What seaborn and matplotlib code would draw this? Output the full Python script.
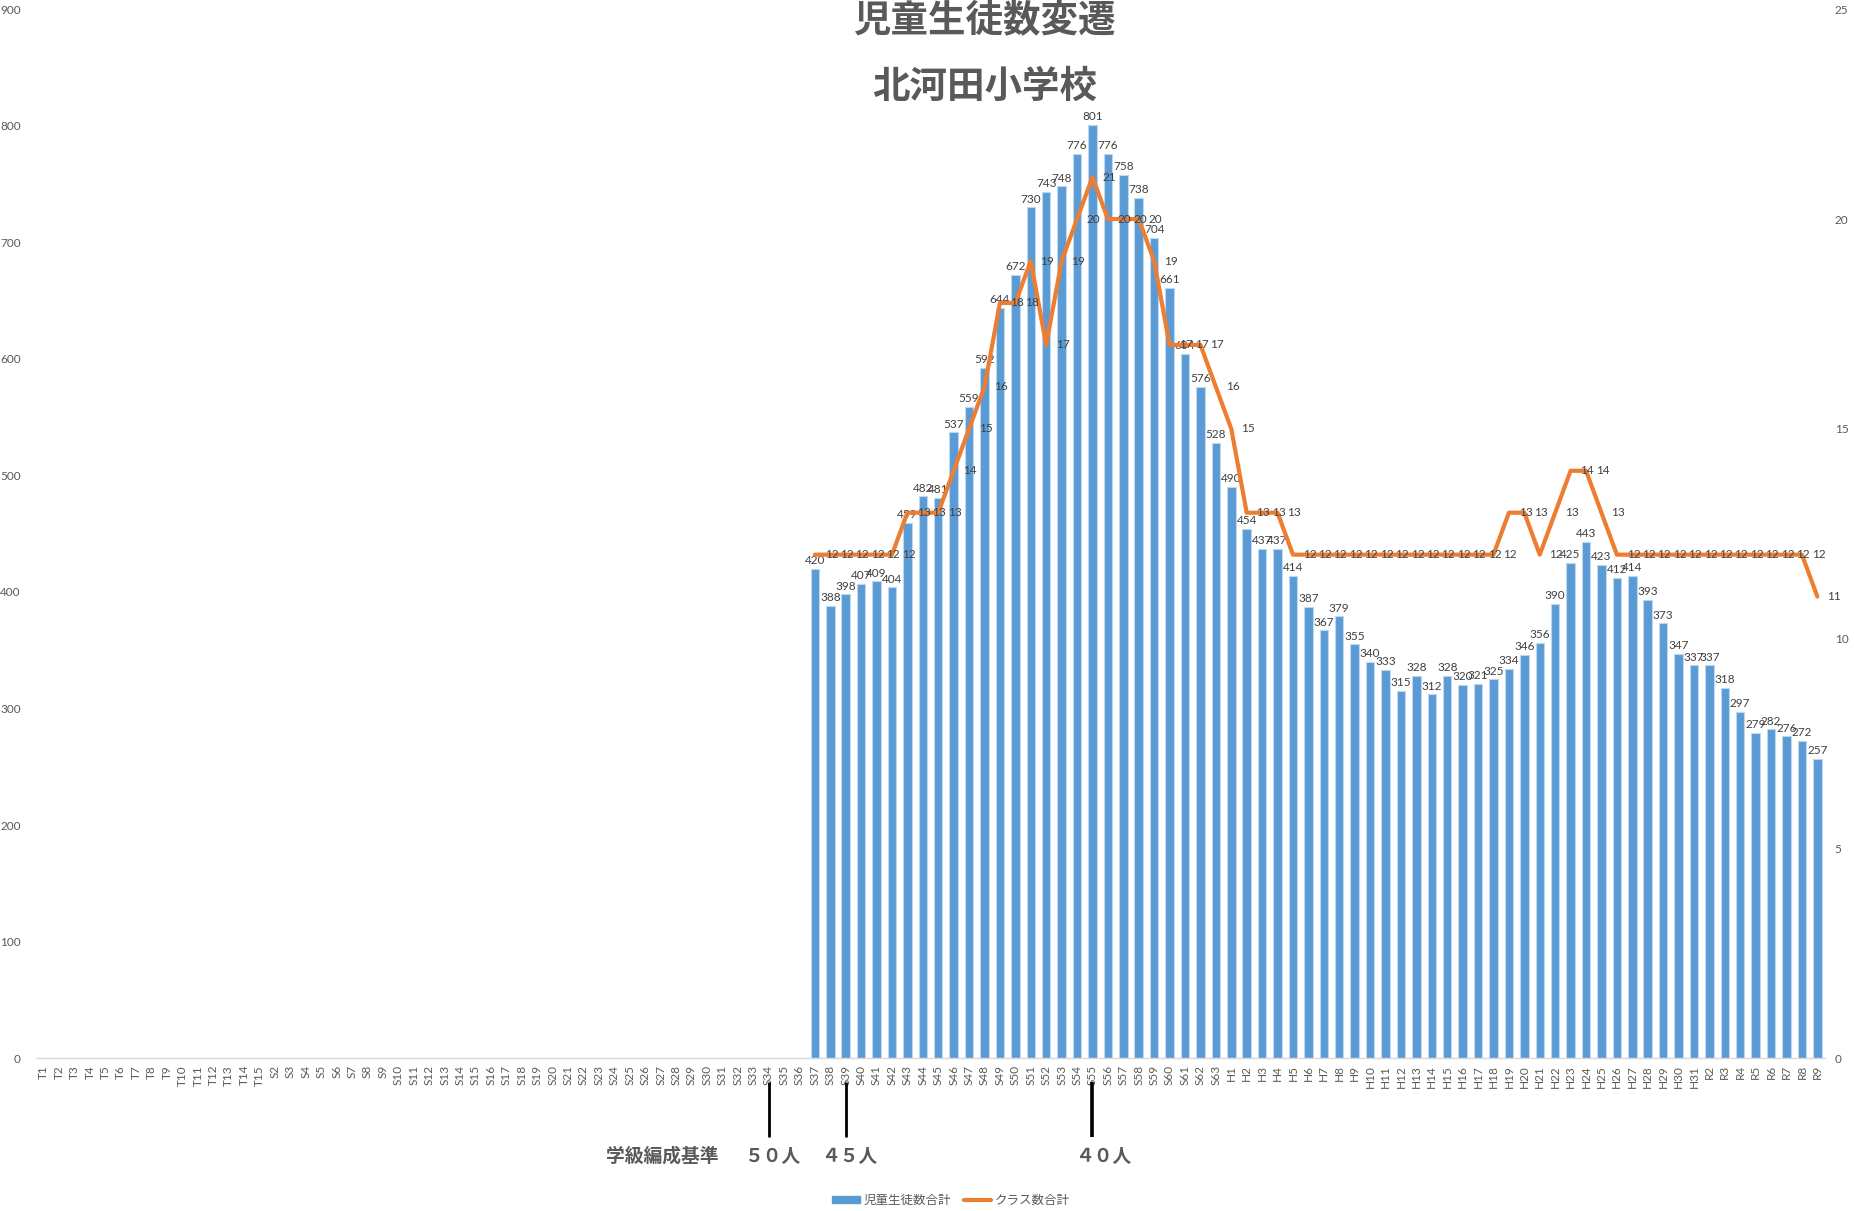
import numpy as np
import pandas as pd
import matplotlib
matplotlib.use("Agg")
import matplotlib.pyplot as plt
import seaborn as sns
from matplotlib.transforms import blended_transform_factory
from matplotlib.lines import Line2D
from matplotlib.patches import Patch

# ---------------- data ----------------
categories = ([f"T{i}" for i in range(1, 16)] + [f"S{i}" for i in range(2, 64)]
              + [f"H{i}" for i in range(1, 32)] + [f"R{i}" for i in range(2, 10)])
data_start = "S37"
students = [420, 388, 398, 407, 409, 404, 459, 482, 481, 537, 559, 592, 644, 672,
            730, 743, 748, 776, 801, 776, 758, 738, 704, 661, 604, 576, 528,
            490, 454, 437, 437, 414, 387, 367, 379, 355, 340, 333, 315, 328, 312,
            328, 320, 321, 325, 334, 346, 356, 390, 425, 443, 423, 412, 414, 393,
            373, 347, 337,
            337, 318, 297, 279, 282, 276, 272, 257]
classes = [12, 12, 12, 12, 12, 12, 13, 13, 13, 14, 15, 16, 18, 18,
           19, 17, 19, 20, 21, 20, 20, 20, 19, 17, 17, 17, 16,
           15, 13, 13, 13, 12, 12, 12, 12, 12, 12, 12, 12, 12, 12,
           12, 12, 12, 12, 13, 13, 12, 13, 14, 14, 13, 12, 12, 12,
           12, 12, 12,
           12, 12, 12, 12, 12, 12, 12, 11]
series_names = ["児童生徒数合計", "クラス数合計"]
title_lines = ["児童生徒数変遷", "北河田小学校"]
standard_title = "学級編成基準"
standard_marks = ["S34", "S39", "S55"]
standard_labels = ["５０人", "４５人", "４０人"]
left_ticks = list(range(0, 901, 100))
right_ticks = list(range(0, 26, 5))

BAR = "#5B9BD5"
LINE = "#ED7D31"
TXT = "#595959"
LAB = "#404040"

sns.set_theme(style="white")
plt.rcParams['font.family'] = ['Lato', 'Noto Sans CJK JP', 'DejaVu Sans']

n = len(categories)
start = categories.index(data_start)
stu_full = [np.nan] * start + students
cls_full = [np.nan] * start + classes
df = pd.DataFrame({"year": categories, "students": stu_full,
                   "classes": cls_full, "pos": np.arange(n)})

fig = plt.figure(figsize=(18.54, 12.11), dpi=100)
ax = fig.add_axes([0.0194, 0.1263, 0.965, 0.866])

sns.barplot(data=df, x="year", y="students", order=categories, color=BAR,
            saturation=1, width=0.55, edgecolor="#BDD7EE", linewidth=0.8,
            errorbar=None, ax=ax)
ax.set_ylim(0, 900)
ax.set_yticks(left_ticks)
ax.set_xlabel("")
ax.set_ylabel("")

ax2 = ax.twinx()
sns.lineplot(data=df.dropna(), x="pos", y="classes", color=LINE, lw=3.0,
             ax=ax2, legend=False)
ax2.set_ylim(0, 25)
ax2.set_yticks(right_ticks)
ax2.set_ylabel("")
ax2.set_xlabel("")
ax.set_xlim(-0.5, n - 0.5)

for a in (ax, ax2):
    for s in a.spines.values():
        s.set_visible(False)
    a.grid(False)
ax.spines["bottom"].set_visible(True)
ax.spines["bottom"].set_color("#D9D9D9")
ax.spines["bottom"].set_linewidth(1.0)

ax.tick_params(axis="x", labelrotation=90, length=0, pad=5, labelsize=8.5,
               labelcolor=TXT)
ax.tick_params(axis="y", length=0, pad=11, labelsize=8.5, labelcolor=TXT)
ax2.tick_params(axis="y", length=0, pad=7, labelsize=8.5, labelcolor=TXT)

# data labels
for i, v in enumerate(stu_full):
    if not np.isnan(v):
        ax.annotate(f"{int(v)}", (i, v), xytext=(0, 2), textcoords="offset points",
                    ha="center", va="bottom", fontsize=8.5, color=LAB)
for i, c in enumerate(cls_full):
    if not np.isnan(c):
        ax2.annotate(f"{int(c)}", (i, c), xytext=(7, 0), textcoords="offset points",
                     ha="left", va="center", fontsize=8.5, color=LAB)

# titles
fig.text(0.531, 0.983, title_lines[0], ha="center", va="center", fontsize=27,
         fontweight="bold", color=TXT, family=["Noto Sans CJK JP"])
fig.text(0.531, 0.929, title_lines[1], ha="center", va="center", fontsize=27,
         fontweight="bold", color=TXT, family=["Noto Sans CJK JP"])

# class-size standard marks
trans = blended_transform_factory(ax.transData, ax.transAxes)
for cat, lw in zip(standard_marks, [2.0, 2.0, 2.6]):
    idx = categories.index(cat)
    ax.plot([idx, idx], [-0.0229, -0.0753], transform=trans, color="black",
            lw=lw, clip_on=False, solid_capstyle="butt")
fig.text(0.357, 0.0454, standard_title, ha="center", va="center", fontsize=13.5,
         fontweight="bold", color=TXT, family=["Noto Sans CJK JP"])
for xf, lab in zip([0.4164, 0.458, 0.595], standard_labels):
    fig.text(xf, 0.0454, lab, ha="center", va="center", fontsize=13.5,
             fontweight="bold", color=TXT, family=["Noto Sans CJK JP"])

handles = [Patch(facecolor=BAR, edgecolor=BAR),
           Line2D([0], [0], color=LINE, lw=3.0)]
fig.legend(handles, series_names, loc="center", bbox_to_anchor=(0.513, 0.009),
           ncol=2, frameon=False, labelcolor=TXT, handlelength=2.2,
           handleheight=0.5, columnspacing=1.0, handletextpad=0.3,
           prop={"family": ["Noto Sans CJK JP"], "size": 9})

fig.savefig("out.png", dpi=100)
